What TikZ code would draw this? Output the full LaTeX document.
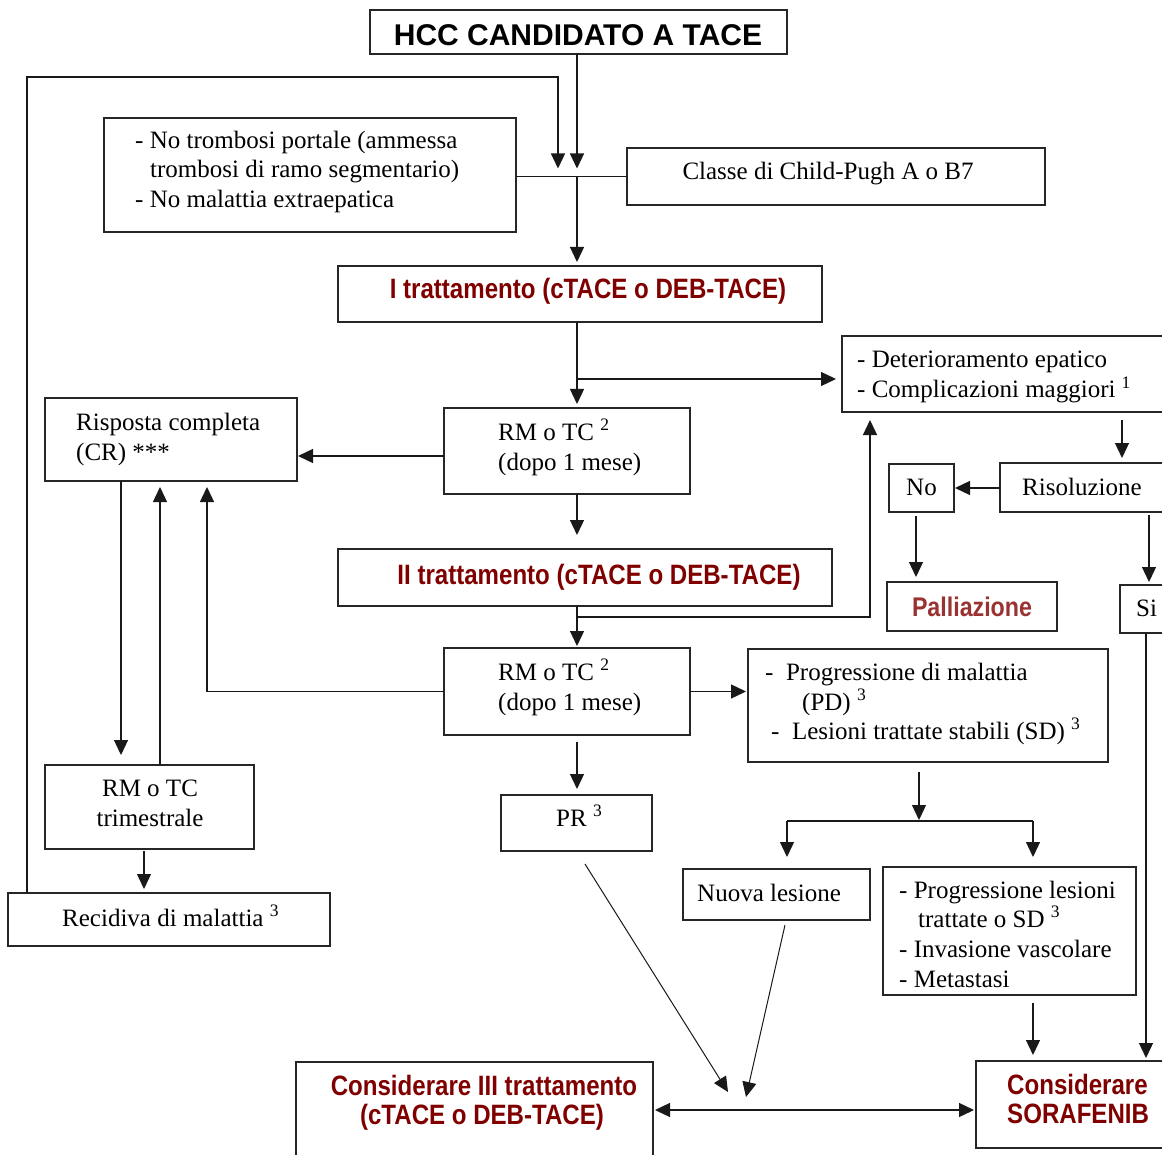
\documentclass[tikz,border=0pt]{standalone}
\usepackage{fontspec}
\setmainfont{Liberation Serif}
\newfontfamily\hccfont{Liberation Sans}
\newfontfamily\redsans[FakeStretch=0.86]{Liberation Sans}
\usetikzlibrary{arrows.meta,calc}
\definecolor{dred}{RGB}{128,0,0}
\definecolor{pred}{RGB}{155,50,50}
\tikzset{
 bx/.style={draw=black!85, line width=1.5pt, rectangle, inner sep=0pt, outer sep=0pt, anchor=north west},
 tx/.style={inner sep=0pt, font=\fontsize{25}{29.5}\selectfont},
 rt/.style={inner sep=0pt, text=dred, font=\fontsize{28}{33}\selectfont\redsans\bfseries},
 ln/.style={line width=1.3pt, draw=black!90},
 arr/.style={ln, -{Triangle[length=15pt,width=14pt]}},
 thn/.style={line width=1pt, draw=black!90, -{Triangle[length=15pt,width=14pt]}},
 dbl/.style={ln, {Triangle[length=15pt,width=14pt]}-{Triangle[length=15pt,width=14pt]}},
}
\begin{document}
\begin{tikzpicture}[x=1pt,y=-1pt]
\useasboundingbox (0,0) rectangle (1162,1155);
\fill[white] (0,0) rectangle (1162,1155);
\clip (0,0) rectangle (1162,1155);
% boxes
\node[bx, minimum width=417pt, minimum height=44pt] (hcc) at (370,10) {};
\node[bx, minimum width=412pt, minimum height=114pt] (crit) at (104,118) {};
\node[bx, minimum width=418pt, minimum height=57pt] (child) at (627,148) {};
\node[bx, minimum width=484pt, minimum height=56pt] (tr1) at (338,266) {};
\node[bx, minimum width=340pt, minimum height=76pt] (det) at (842,336) {};
\node[bx, minimum width=252pt, minimum height=83pt] (rc) at (45,398) {};
\node[bx, minimum width=246pt, minimum height=86pt] (rm1) at (444,408) {};
\node[bx, minimum width=180pt, minimum height=49pt] (ris) at (1000,463) {};
\node[bx, minimum width=65pt, minimum height=48pt] (no) at (889,464) {};
\node[bx, minimum width=494pt, minimum height=57pt] (tr2) at (338,549) {};
\node[bx, minimum width=170pt, minimum height=49pt] (pall) at (887,582) {};
\node[bx, minimum width=60pt, minimum height=48pt] (si) at (1120,585) {};
\node[bx, minimum width=246pt, minimum height=87pt] (rm2) at (444,648) {};
\node[bx, minimum width=360pt, minimum height=113pt] (pd) at (748,649) {};
\node[bx, minimum width=209pt, minimum height=84pt] (tri) at (45,765) {};
\node[bx, minimum width=151pt, minimum height=56pt] (pr) at (501,795) {};
\node[bx, minimum width=187pt, minimum height=51pt] (nuova) at (683,869) {};
\node[bx, minimum width=253pt, minimum height=128pt] (pl) at (883,867) {};
\node[bx, minimum width=322pt, minimum height=53pt] (rec) at (8,893) {};
\node[bx, minimum width=357pt, minimum height=120pt] (c3) at (296,1062) {};
\node[bx, minimum width=200pt, minimum height=87pt] (sor) at (976,1061) {};
% texts
\node[tx,anchor=base] (t-hcc) at (578,46) {\fontsize{30}{36}\selectfont\hccfont\bfseries HCC CANDIDATO A TACE};
\node[tx,anchor=base west] (t-c1) at (135,149) {- No trombosi portale (ammessa};
\node[tx,anchor=base west] (t-c2) at (150,178) {trombosi di ramo segmentario)};
\node[tx,anchor=base west] (t-c3) at (135,208) {- No malattia extraepatica};
\node[tx,anchor=base] (t-child) at (828,180) {Classe di Child-Pugh A o B7};
\node[rt,anchor=base] (t-tr1) at (588,299) {I trattamento (cTACE o DEB-TACE)};
\node[tx,anchor=base west] (t-det1) at (857,368) {- Deterioramento epatico};
\node[tx,anchor=base west] (t-det2) at (857,398) {- Complicazioni maggiori \textsuperscript{1}};
\node[tx,anchor=base west] (t-rc1) at (76,431) {Risposta completa};
\node[tx,anchor=base west] (t-rc2) at (76,460) {(CR) ***};
\node[tx,anchor=base west] (t-rm1a) at (498,440) {RM o TC \textsuperscript{2}};
\node[tx,anchor=base west] (t-rm1b) at (498,470) {(dopo 1 mese)};
\node[tx,anchor=base west] (t-ris) at (1022,495) {Risoluzione};
\node[tx,anchor=base west] (t-no) at (906,495) {No};
\node[rt,anchor=base] (t-tr2) at (599,584) {II trattamento (cTACE o DEB-TACE)};
\node[rt,anchor=base,text=pred,font=\fontsize{27}{32}\selectfont\redsans\bfseries] (t-pall) at (972,616) {Palliazione};
\node[tx,anchor=base west] (t-si) at (1136,616) {Si};
\node[tx,anchor=base west] (t-rm2a) at (498,680) {RM o TC \textsuperscript{2}};
\node[tx,anchor=base west] (t-rm2b) at (498,710) {(dopo 1 mese)};
\node[tx,anchor=base west] (t-pd1) at (765,680) {-~~Progressione di malattia};
\node[tx,anchor=base west] (t-pd2) at (802,710) {(PD) \textsuperscript{3}};
\node[tx,anchor=base west] (t-pd3) at (771,739) {-~~Lesioni trattate stabili (SD) \textsuperscript{3}};
\node[tx,anchor=base] (t-tri1) at (150,796) {RM o TC};
\node[tx,anchor=base] (t-tri2) at (150,826) {trimestrale};
\node[tx,anchor=base west] (t-pr) at (556,826) {PR \textsuperscript{3}};
\node[tx,anchor=base west] (t-nuova) at (697,901) {Nuova lesione};
\node[tx,anchor=base west] (t-pl1) at (899,898) {- Progressione lesioni};
\node[tx,anchor=base west] (t-pl2) at (918,927) {trattate o SD \textsuperscript{3}};
\node[tx,anchor=base west] (t-pl3) at (899,957) {- Invasione vascolare};
\node[tx,anchor=base west] (t-pl4) at (899,987) {- Metastasi};
\node[tx,anchor=base west] (t-rec) at (62,926) {Recidiva di malattia \textsuperscript{3}};
\node[rt,anchor=base] (t-c3a) at (484,1095) {Considerare III trattamento};
\node[rt,anchor=base] (t-c3b) at (482,1124) {(cTACE o DEB-TACE)};
\node[rt,anchor=base west] (t-sor1) at (1007,1094) {Considerare};
\node[rt,anchor=base west] (t-sor2) at (1007,1123) {SORAFENIB};
% coordinates
\coordinate (colA) at (577,0);
\coordinate (colD) at (870,0);
\coordinate (hbar) at (0,1110);
\coordinate (tipL) at (728,1092);
\coordinate (tipR) at (746,1097);
\coordinate (sL) at (787,821);
\coordinate (sR) at (1033,821);
% connectors
\draw[arr] (colA |- hcc.south) -- ($(colA |- child.west)+(0,-8)$);
\draw[arr] ($(rec.north west)+(19,0)$) -- (27,77) -- (558,77) -- ($(558,0 |- child.west)+(0,-8)$);
\draw[ln] (crit.east |- child.west) -- (child.west);
\draw[arr] (colA |- child.west) -- ($(colA |- tr1.north)+(0,-4)$);
\draw[arr] (colA |- tr1.south) -- ($(colA |- rm1.north)+(0,-4)$);
\draw[arr] ($(colA |- det.west)+(0,5)$) -- ($(det.west)+(-6,5)$);
\draw[arr] ($(rm1.west)+(0,5)$) -- ($(rc.east |- rm1.west)+(1,5)$);
\draw[arr] (colA |- rm1.south) -- ($(colA |- tr2.north)+(0,-14)$);
\draw[arr] (colA |- tr2.south) -- ($(colA |- rm2.north)+(0,-2)$);
\draw[arr] ($(colA |- tr2.south)+(0,11)$) -- ($(colD |- tr2.south)+(0,11)$) -- ($(colD |- det.south)+(0,8)$);
\draw[arr] (rm2.west) -- (207,0 |- rm2.west) -- ($(207,0 |- rc.south)+(0,6)$);
\draw[arr] (rm2.east) -- ($(pd.west |- rm2.east)+(-2,0)$);
\draw[arr] ($(colA |- rm2.south)+(0,7)$) -- ($(colA |- pr.north)+(0,-6)$);
\draw[thn] ($(pr.south)+(8.5,13)$) -- (tipL);
\draw[thn] ($(nuova.south)+(8.5,5)$) -- (tipR);
\draw[arr] (121,0 |- rc.south) -- ($(121,0 |- tri.north)+(0,-10)$);
\draw[arr] (160,0 |- tri.north) -- ($(160,0 |- rc.south)+(0,6)$);
\draw[arr] ($(144,0 |- tri.south)+(0,2)$) -- ($(144,0 |- rec.north)+(0,-4)$);
\draw[arr] ($(1122,0 |- det.south)+(0,8)$) -- ($(1122,0 |- ris.north)+(0,-5)$);
\draw[arr] (ris.west |- no.east) -- ($(no.east)+(1,0)$);
\draw[arr] ($(916,0 |- no.south)+(0,4)$) -- ($(916,0 |- pall.north)+(0,-5)$);
\draw[arr] ($(1149,0 |- ris.south)+(0,3)$) -- ($(1149,0 |- si.north)+(0,-3)$);
\draw[arr] (1146,0 |- si.south) -- ($(1146,0 |- sor.north)+(0,-3)$);
\draw[arr] ($(919,0 |- pd.south)+(0,10)$) -- (919,820);
\draw[ln] (sL) -- (sR);
\draw[arr] (sL) -- ($(sL |- nuova.north)+(0,-12)$);
\draw[arr] (sR) -- ($(sR |- pl.north)+(0,-10)$);
\draw[arr] ($(sR |- pl.south)+(0,8)$) -- ($(sR |- sor.north)+(0,-6)$);
\draw[dbl] ($(c3.east |- hbar)+(2,0)$) -- ($(sor.west |- hbar)+(-2,0)$);
\end{tikzpicture}
\end{document}
